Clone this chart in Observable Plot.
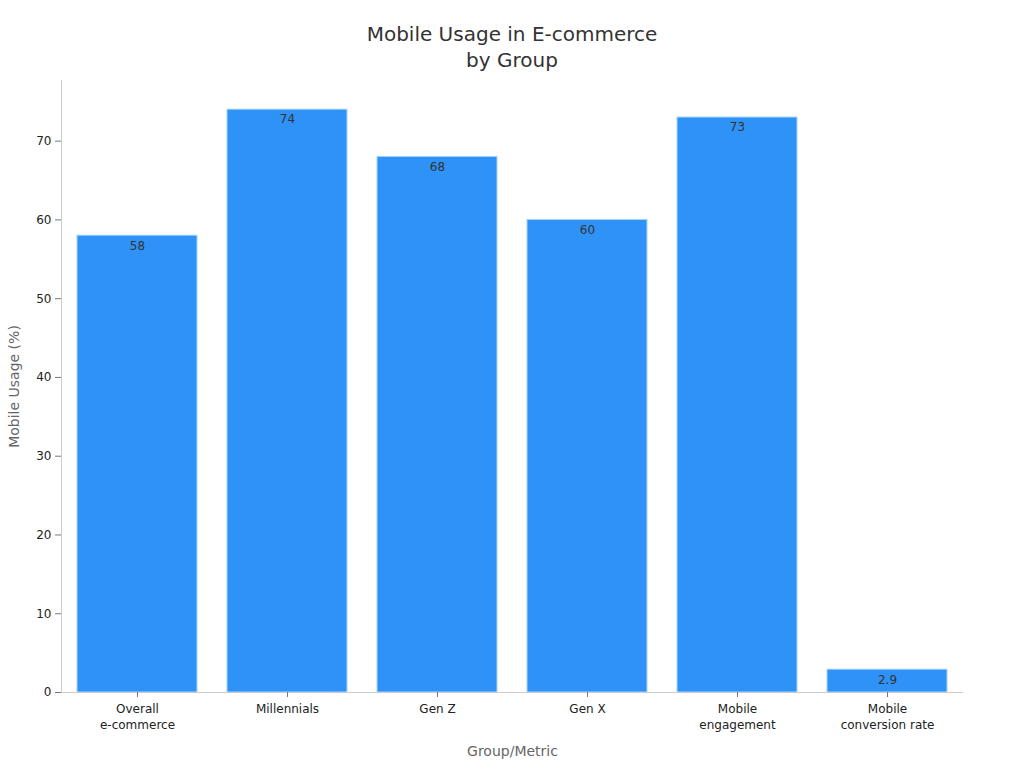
<!DOCTYPE html>
<html>
<head>
<meta charset="utf-8">
<script src="https://cdn.jsdelivr.net/npm/d3@7"></script>
<script src="https://cdn.jsdelivr.net/npm/@observablehq/plot@0.6"></script>
<style>
  html, body { margin: 0; padding: 0; background: #fff; }
  body { width: 1024px; height: 768px; overflow: hidden; font-family: "DejaVu Sans", sans-serif; }
  #title { height: 75px; box-sizing: border-box; padding-top: 21px; text-align: center; font-size: 20px; line-height: 26px; color: #333; }
</style>
</head>
<body>
<div id="title">Mobile Usage in E-commerce<br>by Group</div>
<div id="chart"></div>
<script>
const categories = ["Overall e-commerce", "Millennials", "Gen Z", "Gen X", "Mobile engagement", "Mobile conversion rate"];
const tickLabels = ["Overall\ne-commerce", "Millennials", "Gen Z", "Gen X", "Mobile\nengagement", "Mobile\nconversion rate"];
const values = [58, 74, 68, 60, 73, 2.9];
const valueLabels = ["58", "74", "68", "60", "73", "2.9"];
const yTicks = [0, 10, 20, 30, 40, 50, 60, 70];

const data = categories.map((c, i) => ({category: c, value: values[i], label: valueLabels[i]}));
const labelOf = new Map(categories.map((c, i) => [c, tickLabels[i]]));

const chart = Plot.plot({
  width: 1024,
  height: 693,
  marginTop: 5,
  marginBottom: 76,
  marginLeft: 61,
  marginRight: 61,
  style: {fontFamily: "DejaVu Sans, sans-serif", fontSize: "12px", color: "#222", background: "#fff"},
  x: {domain: categories, paddingInner: 0.2, paddingOuter: 0.1, label: null},
  y: {domain: [0, 77.7], label: null},
  marks: [
    Plot.barY(data, {x: "category", y: "value", fill: "#2f92f7", stroke: "#a9d4fb", strokeWidth: 1}),
    Plot.text(data, {x: "category", y: "value", text: "label", dy: 10, fill: "#333", fontSize: 12}),
    Plot.frame({anchor: "left", stroke: "#ccc"}),
    Plot.ruleY([0], {stroke: "#ccc"}),
    Plot.axisY({ticks: yTicks, tickSize: 6, tickPadding: 4, stroke: "#777", fill: "#222", fontSize: 12, label: "Mobile Usage (%)", labelAnchor: "center", labelArrow: "none", labelOffset: 52}),
    Plot.axisX({tickSize: 5, tickPadding: 4, stroke: "#777", fill: "#222", fontSize: 12, lineHeight: 1.35, tickFormat: d => labelOf.get(d), label: "Group/Metric", labelAnchor: "center", labelArrow: "none", labelOffset: 63})
  ]
});
document.getElementById("chart").appendChild(chart);
chart.querySelectorAll("g[aria-label='y-axis label'] text, g[aria-label='x-axis label'] text").forEach(t => {
  t.setAttribute("fill", "#666");
  t.style.fontSize = "14px";
});
</script>
</body>
</html>
